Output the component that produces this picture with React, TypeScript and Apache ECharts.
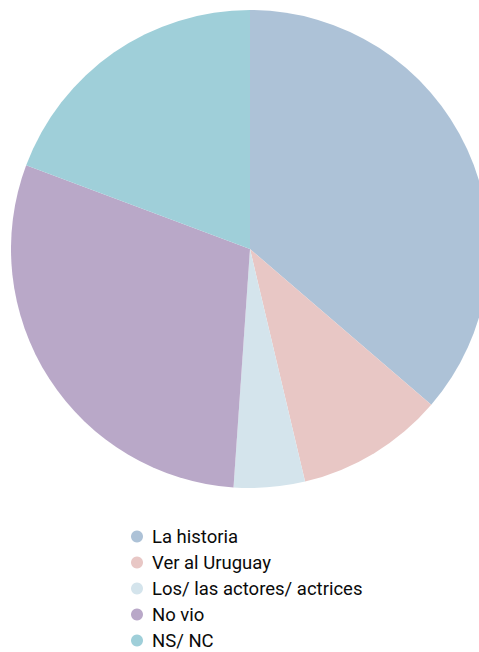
import React, { useEffect, useRef } from "react";
import * as echarts from "echarts";

const categories = ["La historia", "Ver al Uruguay", "Los/ las actores/ actrices", "No vio", "NS/ NC"];
const values = [36.3, 10.0, 4.8, 29.6, 19.3];
const colors = ["#adc2d7", "#e8c7c5", "#d4e4ec", "#b9a8c8", "#9fcfd9"];

export default function App() {
  const ref = useRef<HTMLDivElement>(null);
  useEffect(() => {
    document.body.style.margin = "0";
    const chart = echarts.init(ref.current!, null, { renderer: "svg" });
    const legends = categories.map((c, i) => ({
      orient: "vertical",
      left: 131,
      top: 527 + i * 26,
      padding: 0,
      icon: "circle",
      itemWidth: 12,
      itemHeight: 12,
      selectedMode: false,
      textStyle: {
        fontFamily: "Roboto, sans-serif",
        fontSize: 18.5,
        lineHeight: 18,
        color: "#0a0a0a",
        padding: [0, 0, 0, 4],
      },
      data: [c],
    }));
    chart.setOption({
      animation: false,
      color: colors,
      legend: legends,
      series: [
        {
          type: "pie",
          center: [250, 249],
          radius: 239,
          startAngle: 90,
          clockwise: true,
          label: { show: false },
          labelLine: { show: false },
          emphasis: { disabled: true },
          itemStyle: { borderWidth: 0 },
          data: categories.map((c, i) => ({ name: c, value: values[i] })),
        },
      ],
    });
    return () => chart.dispose();
  }, []);
  return <div ref={ref} style={{ width: 479, height: 652 }} />;
}
